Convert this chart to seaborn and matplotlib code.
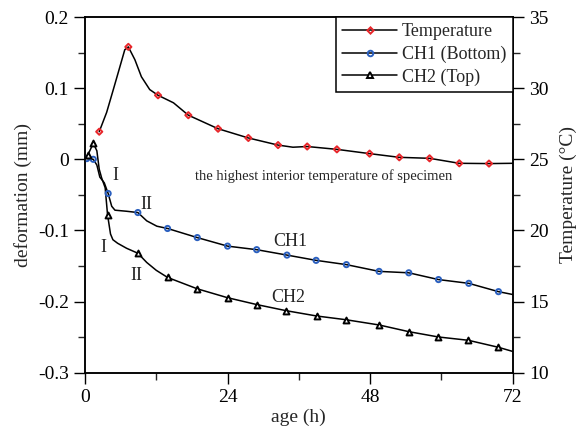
import numpy as np
import pandas as pd
import matplotlib
matplotlib.use("Agg")
import matplotlib.pyplot as plt
from matplotlib.lines import Line2D
from matplotlib.ticker import MultipleLocator
import seaborn as sns

# temperature curve (age h, deg C) and its marker points
temp_t = [2.4, 3.65, 4.77, 5.6, 6.7, 7.3, 8.4, 9.5, 10.9, 12.3, 14.9, 17.4, 22.4,
          27.5, 32.5, 35.0, 37.4, 42.4, 47.9, 52.9, 58.0, 63.0, 68.0, 72.0]
temp_v = [26.94, 28.3, 29.9, 31.1, 32.7, 32.9, 32.0, 30.8, 29.9, 29.5, 28.97, 28.1, 27.15,
          26.5, 26.0, 25.85, 25.9, 25.7, 25.4, 25.14, 25.07, 24.72, 24.7, 24.72]
temp_mk_t = [2.4, 7.3, 12.3, 17.4, 22.4, 27.5, 32.5, 37.4, 42.4, 47.9, 52.9, 58.0, 63.0, 68.0]
temp_mk_v = [26.94, 32.9, 29.5, 28.1, 27.15, 26.5, 26.0, 25.9, 25.7, 25.4, 25.14, 25.07, 24.72, 24.7]

# CH1 (bottom) deformation, mm
ch1_t = [0.3, 1.4, 2.0, 2.5, 3.25, 3.9, 4.5, 5.05, 7.0, 8.9, 10.4, 12.1, 13.9, 18.9, 24.0,
         28.9, 34.0, 38.9, 44.0, 49.5, 54.5, 59.5, 64.6, 69.6, 72.0]
ch1_v = [0.001, 0.0, -0.008, -0.025, -0.033, -0.048, -0.066, -0.0715, -0.073, -0.0748,
         -0.0865, -0.094, -0.0972, -0.110, -0.122, -0.127, -0.1346, -0.142, -0.148,
         -0.1575, -0.1595, -0.169, -0.1743, -0.186, -0.190]
ch1_mk_t = [0.3, 1.4, 3.9, 8.9, 13.9, 18.9, 24.0, 28.9, 34.0, 38.9, 44.0, 49.5, 54.5, 59.5, 64.6, 69.6]
ch1_mk_v = [0.001, 0.0, -0.048, -0.0748, -0.0972, -0.110, -0.122, -0.127, -0.1346, -0.142,
            -0.148, -0.1575, -0.1595, -0.169, -0.1743, -0.186]

# CH2 (top) deformation, mm
ch2_t = [0.45, 1.4, 2.0, 2.4, 2.8, 3.4, 3.8, 4.3, 4.7, 5.5, 7.0, 8.9, 10.4, 12.0, 13.9, 18.9,
         24.0, 29.0, 33.9, 39.0, 43.9, 49.5, 54.5, 59.5, 64.5, 69.5, 72.0]
ch2_v = [0.0056, 0.0224, 0.012, -0.014, -0.026, -0.040, -0.078, -0.105, -0.113, -0.118,
         -0.125, -0.132, -0.145, -0.156, -0.166, -0.182, -0.1945, -0.2043, -0.2128,
         -0.2202, -0.2254, -0.2328, -0.2422, -0.2497, -0.2543, -0.264, -0.270]
ch2_mk_t = [0.45, 1.4, 3.8, 8.9, 13.9, 18.9, 24.0, 29.0, 33.9, 39.0, 43.9, 49.5, 54.5, 59.5, 64.5, 69.5]
ch2_mk_v = [0.0056, 0.0224, -0.078, -0.132, -0.166, -0.182, -0.1945, -0.2043, -0.2128,
            -0.2202, -0.2254, -0.2328, -0.2422, -0.2497, -0.2543, -0.264]

sns.set_style("ticks")
plt.rcParams["font.family"] = ["Liberation Serif", "DejaVu Serif"]
plt.rcParams["font.size"] = 14

fig = plt.figure(figsize=(5.86, 4.36), dpi=100)
ax = fig.add_axes([0.145, 0.145, 0.73, 0.816])
ax2 = ax.twinx()

line_kw = dict(color="black", linewidth=1.1, estimator=None, sort=False, legend=False)

# deformation curves
sns.lineplot(x=ch1_t, y=ch1_v, ax=ax, **line_kw)
sns.lineplot(x=ch2_t, y=ch2_v, ax=ax, **line_kw)
sns.scatterplot(x=ch1_mk_t, y=ch1_mk_v, ax=ax, marker="o", s=14, facecolors="none",
                edgecolor="#2a5fbf", linewidth=1.4, zorder=5, legend=False)
sns.scatterplot(x=ch2_mk_t, y=ch2_mk_v, ax=ax, marker="^", s=18, color="white",
                edgecolor="black", linewidth=1.4, zorder=5, legend=False)

# temperature
sns.lineplot(x=temp_t, y=temp_v, ax=ax2, **line_kw)
sns.scatterplot(x=temp_mk_t, y=temp_mk_v, ax=ax2, marker="D", s=10, facecolors="none",
                edgecolor="#e8262a", linewidth=1.4, zorder=5, legend=False)

ax.set_xlim(0, 72)
ax.set_ylim(-0.3, 0.2)
ax2.set_ylim(10, 35)
ax.xaxis.set_major_locator(MultipleLocator(24))
ax.xaxis.set_minor_locator(MultipleLocator(12))
ax.yaxis.set_minor_locator(MultipleLocator(0.05))
ax2.yaxis.set_major_locator(MultipleLocator(5))
ax2.yaxis.set_minor_locator(MultipleLocator(2.5))
ax.set_yticks([-0.3, -0.2, -0.1, 0, 0.1, 0.2])
ax.set_yticklabels(["-0.3", "-0.2", "-0.1", "0", "0.1", "0.2"])

for a in (ax, ax2):
    a.tick_params(which="major", direction="out", length=8, width=1, labelsize=14, colors="black")
    a.tick_params(which="minor", direction="out", length=5, width=1)
    for s in a.spines.values():
        s.set_linewidth(1.1)
        s.set_color("black")
        s.set_visible(True)
ax.tick_params(top=False, right=False, which="both")
ax2.tick_params(left=False, top=False, bottom=False, which="both")

ax.set_xlabel("age (h)", fontsize=14, labelpad=2)
ax.set_ylabel("deformation (mm)", fontsize=14, labelpad=4)
ax2.set_ylabel("Temperature (°C)", fontsize=14, labelpad=8)

# annotations
ax.text(18.5, -0.024, "the highest interior temperature of specimen", fontsize=10.5, va="center")
ax.text(5.05, -0.023, "I", fontsize=13, ha="center", va="center")
ax.text(10.3, -0.063, "II", fontsize=13, ha="center", va="center")
ax.text(34.5, -0.116, "CH1", fontsize=13, ha="center", va="center")
ax.text(3.1, -0.124, "I", fontsize=13, ha="center", va="center")
ax.text(8.6, -0.163, "II", fontsize=13, ha="center", va="center")
ax.text(34.2, -0.194, "CH2", fontsize=13, ha="center", va="center")

handles = [
    Line2D([], [], color="black", lw=1.1, marker="D", ms=3.2, mfc="none", mec="#e8262a", mew=1.4),
    Line2D([], [], color="black", lw=1.1, marker="o", ms=4, mfc="none", mec="#2a5fbf", mew=1.4),
    Line2D([], [], color="black", lw=1.1, marker="^", ms=4, mfc="white", mec="black", mew=1.4),
]
leg = ax2.legend(handles, ["Temperature", "CH1 (Bottom)", "CH2 (Top)"], loc="upper right",
                 bbox_to_anchor=(1.0, 1.0), borderaxespad=0, fancybox=False, framealpha=1,
                 edgecolor="black", fontsize=13, handlelength=3.0, handletextpad=0.3,
                 labelspacing=0.3, borderpad=0.35)
leg.get_frame().set_linewidth(1.1)

fig.savefig("out.png", dpi=100)
